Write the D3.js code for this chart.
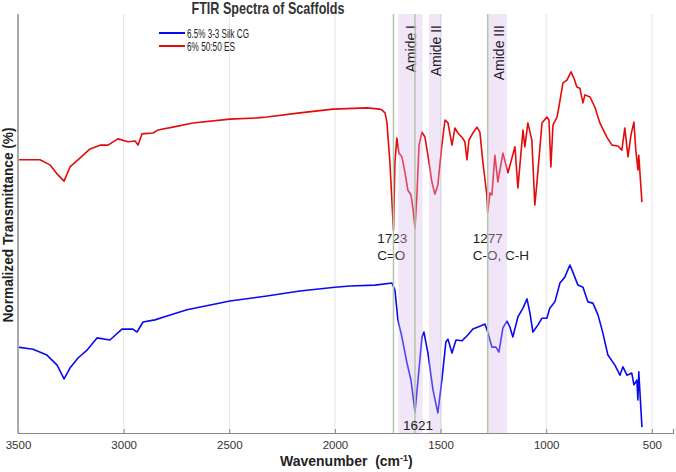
<!DOCTYPE html>
<html>
<head>
<meta charset="utf-8">
<script src="https://cdnjs.cloudflare.com/ajax/libs/d3/7.8.5/d3.min.js"></script>
<style>
  body { margin: 0; background: #fff; }
  text { font-family: "Liberation Sans", Arial, Helvetica, sans-serif; }
</style>
</head>
<body>
<div id="chart"></div>
<script>
// 6% 50:50 ES (red)
var esWave = [3500, 3396, 3349, 3311, 3282, 3254, 3207, 3159, 3112, 3074, 3027, 2979, 2946, 2932, 2913,
  2861, 2838, 2767, 2672, 2497, 2369, 2322, 2166, 2009, 1849, 1787, 1778, 1763, 1754, 1740, 1723,
  1716, 1707, 1697, 1683, 1669, 1655, 1640, 1631, 1621, 1612, 1602, 1588, 1574, 1560, 1541, 1527,
  1513, 1494, 1479, 1465, 1446, 1432, 1418, 1399, 1385, 1375, 1366, 1347, 1328, 1314, 1300, 1281,
  1277, 1266, 1257, 1243, 1229, 1205, 1181, 1148, 1134, 1110, 1101, 1087, 1068, 1054, 1044, 1020,
  997, 987, 978, 968, 949, 940, 921, 902, 883, 869, 855, 841, 826, 817, 793, 770, 746, 713, 689,
  661, 642, 628, 613, 599, 585, 576, 566, 562, 547];
var esValue = [65.2, 65.2, 64.0, 61.6, 60.1, 63.5, 65.6, 67.8, 68.7, 68.7, 70.2, 69.5, 69.7, 68.7, 71.4,
  71.6, 72.3, 73.0, 74.0, 74.9, 75.2, 75.4, 76.4, 77.3, 77.6, 77.3, 77.1, 76.4, 74.2, 64.7, 48.4,
  64.7, 70.4, 66.8, 65.9, 62.3, 58.0, 56.8, 53.7, 48.9, 56.8, 68.7, 71.8, 70.6, 66.3, 59.9, 57.0,
  59.2, 68.7, 74.7, 74.0, 68.7, 72.8, 71.6, 70.6, 69.5, 65.2, 69.9, 71.6, 73.0, 71.8, 64.7, 56.8,
  52.7, 57.3, 56.8, 66.3, 59.9, 66.8, 62.1, 68.3, 58.5, 72.3, 68.3, 74.0, 69.9, 54.4, 59.7, 74.0,
  75.4, 74.7, 63.5, 73.5, 75.4, 77.8, 83.5, 84.2, 86.2, 84.7, 82.6, 82.3, 78.8, 80.7, 80.2, 77.8, 74.0, 70.6, 68.7,
  68.5, 67.5, 72.8, 65.9, 71.1, 74.2, 67.5, 62.8, 66.3, 55.1];

// 6.5% 3-3 Silk CG (blue)
var cgWave = [3500, 3429, 3363, 3315, 3282, 3254, 3216, 3173, 3126, 3065, 3008, 2956, 2937, 2908, 2852,
  2795, 2700, 2497, 2322, 2166, 2000, 1929, 1811, 1730, 1716, 1702, 1683, 1659, 1640, 1621, 1607,
  1588, 1579, 1560, 1536, 1513, 1494, 1475, 1465, 1446, 1427, 1399, 1371, 1347, 1314, 1290, 1277,
  1257, 1238, 1224, 1205, 1186, 1172, 1158, 1134, 1110, 1091, 1077, 1063, 1039, 1020, 997, 983,
  959, 935, 912, 888, 874, 850, 826, 803, 779, 755, 732, 708, 675, 651, 637, 618, 595, 585, 571,
  566, 562, 547];
var cgValue = [20.5, 20.0, 18.6, 16.2, 12.9, 15.5, 17.9, 19.8, 22.7, 22.2, 24.8, 24.8, 24.1, 26.5, 27.0,
  27.9, 29.4, 31.5, 32.7, 33.9, 34.8, 35.1, 35.3, 35.8, 34.1, 27.0, 22.9, 16.7, 12.6, 5.0, 12.6,
  22.9, 24.1, 19.1, 10.3, 4.8, 12.6, 21.7, 22.4, 19.1, 22.2, 22.0, 23.4, 24.8, 25.5, 26.0, 24.1,
  20.5, 20.5, 19.3, 25.1, 26.7, 25.3, 22.9, 27.7, 29.8, 32.0, 28.6, 24.1, 25.8, 27.4, 27.4, 29.8,
  31.3, 35.8, 37.2, 40.1, 38.4, 35.3, 34.8, 31.3, 31.0, 28.2, 23.9, 18.6, 16.2, 13.8, 15.8, 13.8, 14.3, 11.5, 12.6,
  7.9, 14.6, 1.4];

var seriesNames = ["6.5% 3-3 Silk CG", "6% 50:50 ES"];
var seriesColors = ["#0a0af0", "#e30b0b"];

var xTicks = [3500, 3000, 2500, 2000, 1500, 1000, 500];

var bandNames = ["Amide I", "Amide II", "Amide III"];
var bandStart = [1700, 1555, 1280];
var bandEnd = [1585, 1494, 1186];

var peakWaves = [1723, 1621, 1277];

var svgWidth = 676, svgHeight = 472;
var margin = { top: 14, right: 3, bottom: 39, left: 18 };
var width = svgWidth - margin.left - margin.right;
var height = svgHeight - margin.top - margin.bottom;

var svg = d3.select("#chart").append("svg")
  .attr("width", svgWidth)
  .attr("height", svgHeight);

var chartGroup = svg.append("g")
  .attr("transform", `translate(${margin.left}, ${margin.top})`);

var xScale = d3.scaleLinear().domain([3500, 400]).range([0, width]);
var yScale = d3.scaleLinear().domain([0, 100]).range([height, 0]);

// grid
chartGroup.selectAll(".grid")
  .data(xTicks.slice(1))
  .enter().append("line")
  .attr("x1", d => xScale(d)).attr("x2", d => xScale(d))
  .attr("y1", 0).attr("y2", height)
  .attr("stroke", "#e4e4e4").attr("stroke-width", 1);

// annotations under bands
function note(txt, w, y) {
  chartGroup.append("text")
    .attr("x", xScale(w)).attr("y", y)
    .attr("font-size", "13.5px").attr("fill", "#222")
    .text(txt);
}
note("1723", 1723 + 77, 229);
note("C=O", 1723 + 77, 246);
note("1277", 1277 + 71, 229);
note("C-O, C-H", 1277 + 71, 246);

// spectra
var line = d3.line()
  .x(d => xScale(d[0]))
  .y(d => yScale(d[1]));

chartGroup.append("path")
  .datum(d3.zip(cgWave, cgValue))
  .attr("fill", "none").attr("stroke", seriesColors[0])
  .attr("stroke-width", 1.6).attr("stroke-linejoin", "round")
  .attr("d", line);

chartGroup.append("path")
  .datum(d3.zip(esWave, esValue))
  .attr("fill", "none").attr("stroke", seriesColors[1])
  .attr("stroke-width", 1.6).attr("stroke-linejoin", "round")
  .attr("d", line);

// amide bands
chartGroup.selectAll(".band")
  .data(bandNames)
  .enter().append("rect")
  .attr("x", (d, i) => xScale(bandStart[i]))
  .attr("width", (d, i) => xScale(bandEnd[i]) - xScale(bandStart[i]))
  .attr("y", 0).attr("height", height)
  .attr("fill", "#d8b6ea").attr("opacity", 0.35);

chartGroup.selectAll(".bandLabel")
  .data(bandNames)
  .enter().append("text")
  .attr("transform", (d, i) => `translate(${xScale(bandStart[i]) + [18, 12, 17][i]}, 11) rotate(-90)`)
  .attr("text-anchor", "end")
  .attr("font-size", "14px").attr("fill", "#222")
  .text(d => d);

// peak lines
chartGroup.selectAll(".peak")
  .data(peakWaves)
  .enter().append("line")
  .attr("x1", d => xScale(d)).attr("x2", d => xScale(d))
  .attr("y1", 0).attr("y2", height)
  .attr("stroke", "#b4c4aa")
  .attr("stroke-width", 1.5);

note("1621", 1621 + 57, 416);

// axes
var bottomAxis = d3.axisBottom(xScale).tickValues(xTicks).tickFormat(d3.format("d"))
  .tickSize(-4).tickPadding(8);
var xAxisG = chartGroup.append("g")
  .attr("transform", `translate(0, ${height})`)
  .call(bottomAxis);
xAxisG.select(".domain").attr("stroke", "#888").attr("stroke-width", 1.2);
xAxisG.selectAll(".tick line").attr("stroke", "#888");
xAxisG.selectAll(".tick text").attr("font-size", "11.5px").attr("fill", "#333")
  .attr("font-family", "Liberation Sans, Arial, sans-serif");

chartGroup.append("line")
  .attr("x1", 0).attr("x2", 0).attr("y1", 0).attr("y2", height)
  .attr("stroke", "#aaa").attr("stroke-width", 2);

// title and axis labels
svg.append("text")
  .attr("x", 268).attr("y", 14)
  .attr("text-anchor", "middle")
  .attr("font-size", "17px").attr("font-weight", "bold").attr("fill", "#333")
  .attr("textLength", 153).attr("lengthAdjust", "spacingAndGlyphs")
  .text("FTIR Spectra of Scaffolds");

var xLabel = svg.append("text")
  .attr("x", 280).attr("y", 466)
  .attr("font-size", "14px").attr("font-weight", "bold").attr("fill", "#222");
xLabel.append("tspan").text("Wavenumber\u00a0\u00a0(cm");
xLabel.append("tspan").attr("dy", -5).attr("font-size", "9px").text("-1");
xLabel.append("tspan").attr("dy", 5).text(")");

svg.append("text")
  .attr("transform", "translate(13, 225) rotate(-90)")
  .attr("text-anchor", "middle")
  .attr("font-size", "14px").attr("font-weight", "bold").attr("fill", "#222")
  .attr("textLength", 195).attr("lengthAdjust", "spacingAndGlyphs")
  .text("Normalized Transmittance (%)");

// legend
var legend = svg.append("g");
seriesNames.forEach(function(name, i) {
  legend.append("line")
    .attr("x1", 159).attr("x2", 185)
    .attr("y1", 33 + i * 13).attr("y2", 33 + i * 13)
    .attr("stroke", seriesColors[i]).attr("stroke-width", 2);
  legend.append("text")
    .attr("x", 187).attr("y", 37.5 + i * 13)
    .attr("font-size", "12.5px").attr("fill", "#222")
    .attr("textLength", i == 0 ? 62 : 48).attr("lengthAdjust", "spacingAndGlyphs")
    .text(name);
});
</script>
</body>
</html>
